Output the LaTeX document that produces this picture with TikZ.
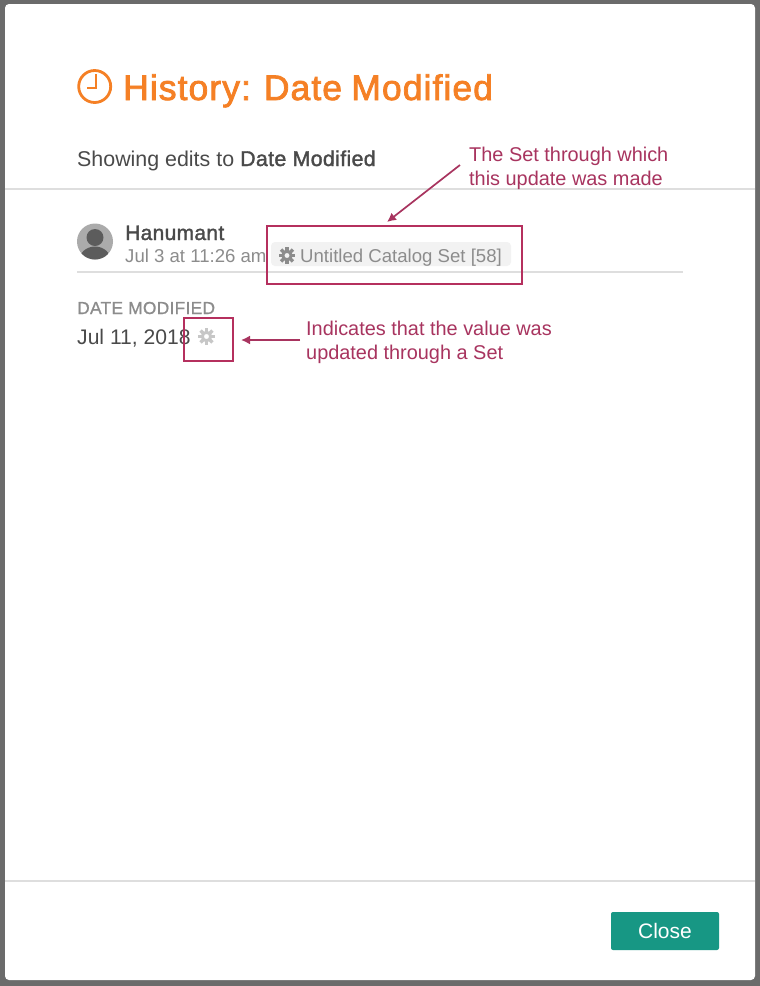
\documentclass[tikz,border=0pt]{standalone}
\usepackage{fontspec}
\setmainfont{Liberation Sans}
\newfontface\titleface[FakeBold=2.2,LetterSpace=3,WordSpace=0.85]{Liberation Sans}
\newfontface\mediumface[FakeBold=1.6,LetterSpace=1.5]{Liberation Sans}
\newfontface\labelface[FakeBold=0.8,LetterSpace=1.5]{Liberation Sans}
\usetikzlibrary{arrows,arrows.meta,positioning}
\definecolor{titleorange}{HTML}{F58025}
\definecolor{notered}{HTML}{A8345F}
\definecolor{boxred}{HTML}{B5305E}
\definecolor{inkgray}{HTML}{4A4A4A}
\definecolor{softgray}{HTML}{8C8C8C}
\definecolor{rulegray}{HTML}{DEDEDE}
\definecolor{closegreen}{HTML}{179784}
\begin{document}
\begin{tikzpicture}[x=1pt,y=-1pt,
		textnode/.style={inner sep=0pt,anchor=base west},
		notetext/.style={inner sep=0pt,anchor=north west,align=left,text=notered,font=\fontsize{19.9}{24}\selectfont},
		markbox/.style={draw=boxred,line width=2pt,inner sep=0pt,outer sep=0pt,anchor=north west},
		notearrow/.style={draw=notered,line width=1.7pt,-{Latex[length=9pt,width=9pt]}},
		rulerline/.style={draw=rulegray,line width=2pt},
		gearicon/.pic={
			\draw[line width=3pt] (0,0) circle (4.2);
			\foreach \ang in {0,45,...,315}
				\draw[line width=3.2pt,rotate=\ang] (4.6,0) -- (8.4,0);
		}]
	\useasboundingbox (0,0) rectangle (760,986);
	\fill[black!58] (0,0) rectangle (760,986);
	\fill[white,rounded corners=4pt] (5,4) rectangle (755,980);
	% header
	\draw[titleorange,line width=2.8pt] (94.7,86.5) circle (16);
	\draw[titleorange,line width=2.8pt] (96,74) -- (96,88) -- (87,88);
	\node[textnode,text=titleorange,font=\titleface\fontsize{35.5}{40}\selectfont] (histtitle) at (123,100) {History: Date Modified};
	\node[textnode,text=inkgray,font=\fontsize{21.4}{24}\selectfont] (showtext) at (77,166) {Showing edits to {\mediumface Date Modified}};
	\draw[rulerline] (5,189) -- (755,189);
	% edit row
	\fill[black!33] (95,241.5) circle (18);
	\begin{scope}
		\clip (95,241.5) circle (18);
		\fill[inkgray!90] (95,237.5) circle (8.5);
		\fill[inkgray!90] (95,261) ellipse (16 and 14.5);
	\end{scope}
	\node[textnode,text=inkgray,font=\mediumface\fontsize{21}{24}\selectfont] (username) at (125,240) {Hanumant};
	\node[textnode,text=softgray,font=\fontsize{18.6}{20}\selectfont] (editdate) at (125,262) {Jul 3 at 11:26 am};
	\fill[black!5,rounded corners=4pt] (271,242) rectangle (511,266);
	\pic[softgray] at (287,255.5) {gearicon};
	\node[textnode,text=softgray,font=\fontsize{18.6}{20}\selectfont] (setname) at (300,262) {Untitled Catalog Set [58]};
	\draw[rulerline] (77,272) -- (683,272);
	% field
	\node[textnode,text=softgray,font=\labelface\fontsize{17.4}{20}\selectfont] (fieldname) at (77,314) {DATE MODIFIED};
	\node[textnode,text=inkgray,font=\fontsize{21.1}{24}\selectfont] (fieldvalue) at (77,344) {Jul 11, 2018};
	\pic[black!22] at (206.5,336.5) {gearicon};
	% annotations
	\node[markbox,minimum width=255pt,minimum height=58pt] (setbox) at (267,226) {};
	\node[markbox,minimum width=49pt,minimum height=43pt] (valuebox) at (184,317.5) {};
	\node[notetext] (setnote) at (469,147) {The Set through which\\this update was made};
	\node[notetext] (valuenote) at (306,321) {Indicates that the value was\\updated through a Set};
	\coordinate (settail) at (460,165);
	\coordinate (sethead) at (387,222);
	\coordinate (valuetail) at (300,340);
	\coordinate (valuehead) at (241,340);
	\draw[notearrow] (settail) -- (sethead);
	\draw[notearrow] (valuetail) -- (valuehead);
	% footer
	\draw[rulerline] (5,881) -- (755,881);
	\node[fill=closegreen,rounded corners=2pt,minimum width=108pt,minimum height=38pt,inner sep=0pt,outer sep=0pt,anchor=north west] (closebtn) at (611,912) {};
	\node[inner sep=0pt,anchor=base,text=white,font=\fontsize{21}{24}\selectfont] (closetext) at (665,938) {Close};
\end{tikzpicture}
\end{document}
